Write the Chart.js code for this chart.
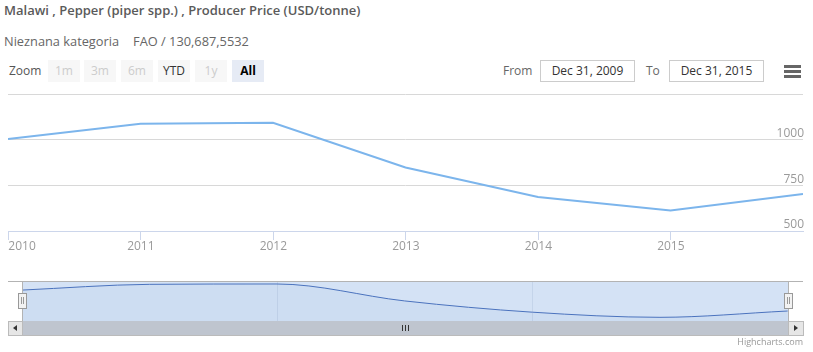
<!DOCTYPE html>
<html>
<head>
<meta charset="utf-8">
<script src="https://cdn.jsdelivr.net/npm/chart.js@4.4.1/dist/chart.umd.min.js"></script>
<style>
  html, body { margin: 0; padding: 0; background: #fff; }
  body { width: 813px; height: 352px; position: relative; overflow: hidden; font-family: "Open Sans", sans-serif; }
  .abs { position: absolute; }
  #title { left: 4px; top: 1px; font-size: 13px; font-weight: 600; color: #5a5a5a; line-height: 18px; white-space: nowrap; }
  #sub { left: 4px; top: 32px; font-size: 12.8px; color: #666; line-height: 18px; white-space: nowrap; }
  #sub span + span { margin-left: 14px; }
  #zoomLbl { left: 9px; top: 62px; font-size: 12px; color: #555; line-height: 18px; }
  .btn { position: absolute; top: 60px; width: 32px; height: 22px; line-height: 22px; text-align: center; font-size: 12px; background: #f7f7f7; color: #333; }
  .btn.dis { color: #cccccc; }
  .btn.sel { background: #e6ebf5; color: #000; font-weight: bold; }
  .lbl { position: absolute; top: 62px; font-size: 12px; color: #666; line-height: 18px; }
  .inp { position: absolute; top: 60px; width: 93px; height: 20px; border: 1px solid #cccccc; font-size: 12px; color: #333; line-height: 20px; text-align: center; box-sizing: content-box; }
  .bar { position: absolute; left: 784px; width: 17px; height: 3px; background: #666; }
  #credit { right: 10px; top: 335px; font-size: 9px; color: #999; line-height: 14px; }
  canvas { position: absolute; left: 0; }
</style>
</head>
<body>
<div id="title" class="abs">Malawi , Pepper (piper spp.) , Producer Price (USD/tonne)</div>
<div id="sub" class="abs"><span>Nieznana kategoria</span><span>FAO / 130,687,5532</span></div>
<div id="zoomLbl" class="abs">Zoom</div>
<div class="btn dis" style="left:48px">1m</div>
<div class="btn dis" style="left:84px">3m</div>
<div class="btn dis" style="left:121px">6m</div>
<div class="btn" style="left:158px">YTD</div>
<div class="btn dis" style="left:195px">1y</div>
<div class="btn sel" style="left:232px">All</div>
<div class="lbl" style="left:503px">From</div>
<div class="inp" style="left:540px">Dec 31, 2009</div>
<div class="lbl" style="left:646px">To</div>
<div class="inp" style="left:669px">Dec 31, 2015</div>
<div class="bar" style="top:65px"></div>
<div class="bar" style="top:70px"></div>
<div class="bar" style="top:75px"></div>

<canvas id="main" width="813" height="180" style="top:80px"></canvas>

<!-- navigator frame -->
<div class="abs" style="left:22px; top:281px; width:766px; height:40px; background:rgba(120,165,225,0.32);"></div>
<canvas id="nav" width="813" height="60" style="top:270px"></canvas>
<div class="abs" style="left:8px; top:281px; width:795px; height:1px; background:#b3b3b3;"></div>
<div class="abs" style="left:22px; top:281px; width:1px; height:40px; background:#b3b3b3;"></div>
<div class="abs" style="left:788px; top:281px; width:1px; height:40px; background:#b3b3b3;"></div>
<!-- handles -->
<div class="abs" style="left:18px; top:293px; width:7px; height:14px; background:#f2f2f2; border:1px solid #999;"></div>
<div class="abs" style="left:21px; top:297px; width:1px; height:7px; background:#999;"></div>
<div class="abs" style="left:23px; top:297px; width:1px; height:7px; background:#999;"></div>
<div class="abs" style="left:784px; top:293px; width:7px; height:14px; background:#f2f2f2; border:1px solid #999;"></div>
<div class="abs" style="left:787px; top:297px; width:1px; height:7px; background:#999;"></div>
<div class="abs" style="left:789px; top:297px; width:1px; height:7px; background:#999;"></div>
<!-- scrollbar -->
<div class="abs" style="left:8px; top:321px; width:795px; height:14px; background:#f2f2f2; border-bottom:1px solid #bbb;"></div>
<div class="abs" style="left:22px; top:321px; width:766px; height:14px; background:#bfc5cf;"></div>
<div class="abs" style="left:8px; top:321px; width:13px; height:13px; background:#e6e6e6; border:1px solid #bbb;"></div>
<div class="abs" style="left:788px; top:321px; width:14px; height:13px; background:#e6e6e6; border:1px solid #bbb;"></div>
<div class="abs" style="left:13px; top:325px; width:0; height:0; border-top:3px solid transparent; border-bottom:3px solid transparent; border-right:4px solid #333;"></div>
<div class="abs" style="left:794px; top:325px; width:0; height:0; border-top:3px solid transparent; border-bottom:3px solid transparent; border-left:4px solid #333;"></div>
<div class="abs" style="left:402px; top:325px; width:1px; height:6px; background:#333;"></div>
<div class="abs" style="left:405px; top:325px; width:1px; height:6px; background:#333;"></div>
<div class="abs" style="left:408px; top:325px; width:1px; height:6px; background:#333;"></div>

<div id="credit" class="abs">Highcharts.com</div>

<script>
// ---- data ----
const pointDates = ['2009-12-31', '2010-12-31', '2011-12-31', '2012-12-31', '2013-12-31', '2014-12-31', '2015-12-31'];
const prices = [1004, 1087, 1092, 848, 686, 612, 703];
const xTickYears = [2010, 2011, 2012, 2013, 2014, 2015];
const yTicks = [500, 750, 1000, 1250];
const navTickYears = [2010, 2012, 2014];

function decYear(s) {
  const [y, m, d] = s.split('-').map(Number);
  const start = Date.UTC(y, 0, 1), end = Date.UTC(y + 1, 0, 1);
  return y + (Date.UTC(y, m - 1, d) - start) / (end - start);
}
const xs = pointDates.map(decYear);
const points = xs.map((x, i) => ({ x: x, y: prices[i] }));

Chart.defaults.font.family = '"Open Sans", sans-serif';

new Chart(document.getElementById('main'), {
  type: 'line',
  data: { datasets: [{ data: points, borderColor: '#7cb5ec', borderWidth: 2, pointRadius: 0, tension: 0, fill: false }] },
  options: {
    responsive: false, animation: false, devicePixelRatio: 1,
    layout: { padding: { left: 8, right: 10, top: 14, bottom: 0 } },
    plugins: { legend: { display: false }, tooltip: { enabled: false } },
    scales: {
      x: {
        type: 'linear', position: 'bottom', min: xs[0], max: xs[xs.length - 1],
        afterBuildTicks: s => { s.ticks = xTickYears.concat([2016]).map(v => ({ value: v })); },
        afterFit: s => { s.height = 29; },
        border: { display: true, color: '#ccd6eb', width: 1 },
        grid: { drawOnChartArea: false, drawTicks: true, tickLength: 9,
                tickColor: c => (c.tick && c.tick.value > 2015.5) ? 'rgba(0,0,0,0)' : '#ccd6eb' },
        ticks: { align: 'inner', padding: -1, color: '#9a9a9a', font: { size: 12 }, maxRotation: 0, autoSkip: false,
                 callback: v => (v > 2015.5 ? '' : String(v)) }
      },
      y: {
        type: 'linear', position: 'right', min: 500, max: 1250,
        afterBuildTicks: s => { s.ticks = yTicks.map(v => ({ value: v })); },
        afterFit: s => { s.width = 0; },
        border: { display: false },
        grid: { color: '#d8d8d8', drawTicks: false },
        ticks: { mirror: true, padding: 1, labelOffset: -6, color: '#9a9a9a', font: { size: 12 },
                 callback: v => (v === 1250 ? '' : String(v)) }
      }
    }
  }
});

new Chart(document.getElementById('nav'), {
  type: 'line',
  data: { datasets: [{ data: points, borderColor: '#4a72bd', borderWidth: 1, pointRadius: 0,
                        cubicInterpolationMode: 'monotone',
                        fill: 'start', backgroundColor: 'rgba(51,92,173,0.04)' }] },
  options: {
    responsive: false, animation: false, devicePixelRatio: 1,
    layout: { padding: { left: 22, right: 25, top: 11, bottom: 9 } },
    plugins: { legend: { display: false }, tooltip: { enabled: false } },
    scales: {
      x: {
        type: 'linear', position: 'bottom', min: 2010, max: 2016,
        afterBuildTicks: s => { s.ticks = navTickYears.map(v => ({ value: v })); },
        afterFit: s => { s.height = 0; },
        border: { display: false },
        grid: { color: '#c4d4ea', drawTicks: false },
        ticks: { align: 'start', labelOffset: 4, padding: -15, color: '#a0a0a0', font: { size: 12 }, maxRotation: 0, autoSkip: false,
                 callback: v => String(v) }
      },
      y: { display: false, min: 559, max: 1135 }
    }
  }
});
</script>
</body>
</html>
